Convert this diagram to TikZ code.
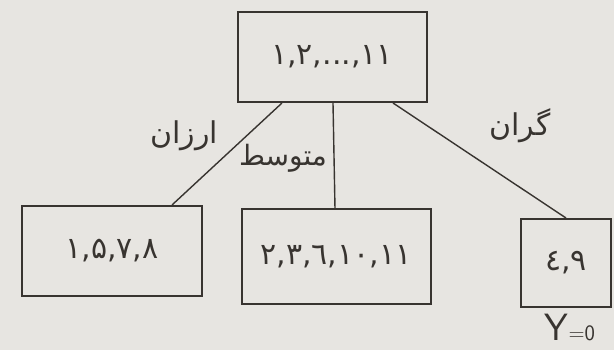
\documentclass[tikz,border=0pt]{standalone}
\usepackage{fontspec}
\newfontfamily\arabicfont[Script=Arabic]{DejaVu Sans}
\newfontfamily\digitfont{DejaVu Sans}
\TeXXeTstate=1
\usetikzlibrary{shapes}
\definecolor{paper}{RGB}{231,229,225}
\definecolor{ink}{RGB}{56,52,48}
\tikzstyle{block} = [draw=ink, rectangle, line width=2pt, inner sep=0pt]
\tikzstyle{branch} = [draw=ink, line width=1.4pt]
\tikzstyle{items} = [text=ink, font=\digitfont\fontsize{30}{34}\selectfont]
\tikzstyle{price} = [text=ink, font=\arabicfont\fontsize{30}{34}\selectfont]
% \kern0pt keeps each number a run of its own
\newcommand{\sep}{\kern0pt,\kern0pt}

\begin{document}
\begin{tikzpicture}[x=1pt, y=-1pt]
    % paper and frame of the page
    \fill [paper] (0,0) rectangle (614,350);
    \useasboundingbox (0,0) rectangle (614,350);

    % We start with the root, then the three leaves under it
    \node [block, items, minimum width=189pt, minimum height=90pt] (root) at (332,57) {١\sep ٢\sep ...\sep ١١};
    \node [block, items, minimum width=180pt, minimum height=90pt] (cheap) at (112,251) {١\sep ۵\sep ٧\sep ٨};
    \node [block, items, minimum width=189pt, minimum height=95pt] (medium) at (336,257) {٢\sep ٣\sep ٦\sep ١٠\sep ١١};
    \node [block, items, minimum width=90pt, minimum height=88pt] (costly) at (566,263) {٤\sep ٩};
    \node [text=ink, anchor=base, name=leafy] at (570,340)
        {\sffamily\fontsize{38}{38}\selectfont Y\fontsize{22}{22}\selectfont =0};

    % Branches from the root down to each leaf
    \draw [branch] ([xshift=-50pt]root.south) -- ([xshift=60pt]cheap.north);
    \draw [branch] ([xshift=1pt]root.south) -- ([xshift=-1pt]medium.north);
    \draw [branch] ([xshift=61pt]root.south) -- (costly.north);

    % Labels of the branches
    \node [price, name=lcheap] at (184,136) {\beginR ارزان\endR};
    \node [price, name=lmedium, font=\arabicfont\fontsize{28}{32}\selectfont] at (283,158) {\beginR متوسط\endR};
    \node [price, name=lcostly] at (520,126) {\beginR گران\endR};
\end{tikzpicture}
\end{document}
